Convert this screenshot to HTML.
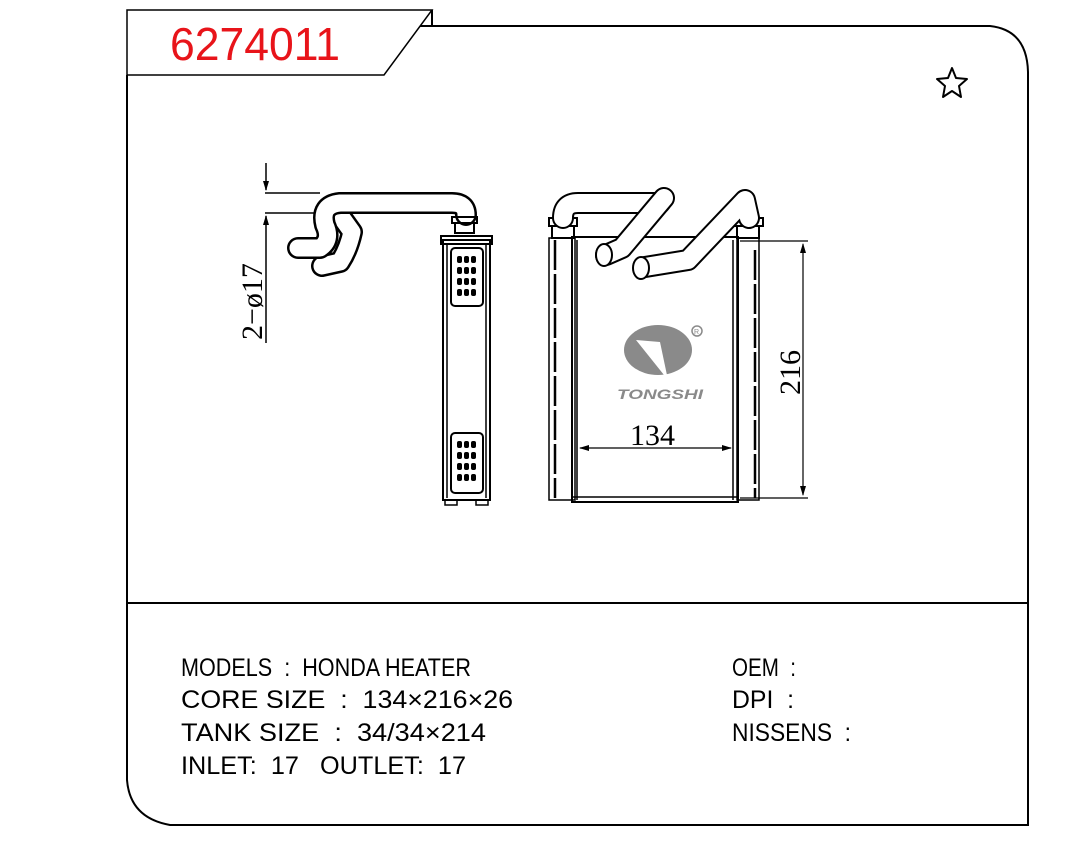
<!DOCTYPE html>
<html><head><meta charset="utf-8">
<style>
html,body{margin:0;padding:0;background:#fff;}
svg{display:block;}
.t{font-family:"Liberation Sans",sans-serif;font-size:25px;fill:#000;white-space:pre;}
.s{font-family:"Liberation Serif",serif;font-size:30px;fill:#000;}
</style></head><body>
<svg width="1071" height="844" viewBox="0 0 1071 844" xmlns="http://www.w3.org/2000/svg" xml:space="preserve">
<defs>
<marker id="ar" markerWidth="10" markerHeight="6" refX="9" refY="3" orient="auto" markerUnits="userSpaceOnUse"><path d="M0,0 L10,3 L0,6 Z" fill="#000"/></marker>
</defs>
<g fill="none" stroke="#000" stroke-width="2">
<path d="M127,10 L432,10 L384,75 L127,75 Z" stroke-width="1.5"/>
<path d="M432,10 L432,26"/>
<path d="M420,26 L990,26 Q1027,30 1028,72 L1028,825 L170,825 Q130,818 127,780 L127,75"/>
<path d="M127,603 L1028,603"/>
</g>
<text x="170" y="60" font-family="Liberation Sans,sans-serif" font-size="46" fill="#e8141a" textLength="170" lengthAdjust="spacingAndGlyphs">6274011</text>
<polygon points="952,68 956,78 967,79 959,86 961,97 952,91 943,97 945,86 937,79 948,78" fill="none" stroke="#000" stroke-width="2" stroke-linejoin="round"/>

<g fill="none" stroke="#000" stroke-width="1.5">
<line x1="265" y1="193" x2="320" y2="193"/>
<line x1="265" y1="213" x2="330" y2="213"/>
<line x1="266" y1="163" x2="266" y2="190" marker-end="url(#ar)"/>
<line x1="266" y1="343" x2="266" y2="216" marker-end="url(#ar)"/>
</g>
<g fill="none" stroke-linecap="round" stroke-linejoin="round">
<path d="M342,218 L352,232 Q348,250 340,262 L322,266" stroke="#000" stroke-width="22"/>
<path d="M342,218 L352,232 Q348,250 340,262 L322,266" stroke="#fff" stroke-width="17"/>
<path d="M466,215 Q466,203 452,203 L340,203 Q320,205 325,225 Q332,240 320,248 L298,248" stroke="#000" stroke-width="22"/>
<path d="M466,215 Q466,203 452,203 L340,203 Q320,205 325,225 Q332,240 320,248 L298,248" stroke="#fff" stroke-width="17"/>
</g>
<g fill="none" stroke="#000" stroke-width="1.5">
<rect x="452" y="217" width="25" height="6" stroke-width="2"/>
<rect x="455" y="223" width="19" height="10" stroke-width="2"/>
<rect x="441" y="236" width="51" height="8" stroke-width="2"/>
<rect x="443" y="240" width="47" height="260" stroke-width="2"/>
<line x1="447" y1="244" x2="447" y2="498"/>
<line x1="486" y1="244" x2="486" y2="498"/>
<rect x="451" y="248" width="32" height="58" rx="4" stroke-width="2"/>
<rect x="451" y="433" width="32" height="60" rx="4" stroke-width="2"/>
<rect x="445" y="500" width="12" height="5"/>
<rect x="476" y="500" width="12" height="5"/>
</g>
<g fill="#000">
<rect x="457" y="256" width="5" height="7" rx="2"/><rect x="464" y="256" width="5" height="7" rx="2"/><rect x="471" y="256" width="5" height="7" rx="2"/>
<rect x="457" y="267" width="5" height="7" rx="2"/><rect x="464" y="267" width="5" height="7" rx="2"/><rect x="471" y="267" width="5" height="7" rx="2"/>
<rect x="457" y="278" width="5" height="7" rx="2"/><rect x="464" y="278" width="5" height="7" rx="2"/><rect x="471" y="278" width="5" height="7" rx="2"/>
<rect x="457" y="289" width="5" height="7" rx="2"/><rect x="464" y="289" width="5" height="7" rx="2"/><rect x="471" y="289" width="5" height="7" rx="2"/>
<rect x="457" y="441" width="5" height="7" rx="2"/><rect x="464" y="441" width="5" height="7" rx="2"/><rect x="471" y="441" width="5" height="7" rx="2"/>
<rect x="457" y="452" width="5" height="7" rx="2"/><rect x="464" y="452" width="5" height="7" rx="2"/><rect x="471" y="452" width="5" height="7" rx="2"/>
<rect x="457" y="463" width="5" height="7" rx="2"/><rect x="464" y="463" width="5" height="7" rx="2"/><rect x="471" y="463" width="5" height="7" rx="2"/>
<rect x="457" y="474" width="5" height="7" rx="2"/><rect x="464" y="474" width="5" height="7" rx="2"/><rect x="471" y="474" width="5" height="7" rx="2"/>
</g>
<text class="s" transform="translate(262,340) rotate(-90)">2−ø17</text>

<g fill="none" stroke="#000" stroke-width="1.5">
<rect x="549" y="238" width="26" height="262"/>
<line x1="555" y1="240" x2="555" y2="498" stroke-width="2.5" stroke-dasharray="30,4"/>
<rect x="737" y="238" width="22" height="262"/>
<line x1="755" y1="250" x2="755" y2="498" stroke-width="2.5" stroke-dasharray="30,4"/>
<rect x="572" y="237" width="166" height="265" stroke-width="2"/>
<line x1="577" y1="240" x2="577" y2="500"/>
<line x1="733" y1="240" x2="733" y2="500"/>
<line x1="572" y1="497" x2="738" y2="497"/>
<rect x="549" y="218" width="28" height="8" stroke-width="2"/>
<rect x="552" y="226" width="22" height="12" stroke-width="2"/>
<rect x="735" y="218" width="28" height="8" stroke-width="2"/>
<rect x="737" y="226" width="22" height="12" stroke-width="2"/>
</g>
<g fill="none" stroke-linecap="round" stroke-linejoin="round">
<path d="M563,218 Q563,203 578,203 L660,203" stroke="#000" stroke-width="22"/>
<path d="M563,218 Q563,203 578,203 L660,203" stroke="#fff" stroke-width="18"/>
<path d="M664,198 L622,248 L606,255" stroke="#000" stroke-width="22"/>
<path d="M664,198 L622,248 L606,255" stroke="#fff" stroke-width="18"/>
<path d="M749,218 L745,200 L688,260 L645,267" stroke="#000" stroke-width="22"/>
<path d="M749,218 L745,200 L688,260 L645,267" stroke="#fff" stroke-width="18"/>
</g>
<g fill="#fff" stroke="#000" stroke-width="2">
<ellipse cx="604" cy="255" rx="8" ry="11"/>
<ellipse cx="641" cy="268" rx="8" ry="11"/>
</g>
<g fill="none" stroke="#000" stroke-width="1.2">
<line x1="740" y1="241" x2="808" y2="241"/>
<line x1="740" y1="498" x2="808" y2="498"/>
<line x1="803" y1="300" x2="803" y2="244" marker-end="url(#ar)"/>
<line x1="803" y1="440" x2="803" y2="495" marker-end="url(#ar)"/>
<line x1="803" y1="300" x2="803" y2="440"/>
<line x1="650" y1="448" x2="580" y2="448" marker-end="url(#ar)"/>
<line x1="650" y1="448" x2="731" y2="448" marker-end="url(#ar)"/>
</g>
<text class="s" x="630" y="445">134</text>
<text class="s" transform="translate(800,395) rotate(-90)">216</text>
<g fill="#8a8a8a">
<ellipse cx="658" cy="350" rx="34" ry="25"/>
<path d="M636,340 L660,342 L668,380 Z" fill="#fff"/>
<text x="617" y="399" font-family="Liberation Sans,sans-serif" font-weight="bold" font-style="italic" font-size="14" textLength="86" lengthAdjust="spacingAndGlyphs">TONGSHI</text>
<circle cx="697" cy="331" r="5" fill="none" stroke="#8a8a8a" stroke-width="1.5"/>
<text x="694" y="334" font-family="Liberation Sans,sans-serif" font-size="7">R</text>
</g>

<text class="t" x="181" y="676" textLength="290" lengthAdjust="spacingAndGlyphs">MODELS  :  HONDA HEATER</text>
<text class="t" x="181" y="708" textLength="332" lengthAdjust="spacingAndGlyphs">CORE SIZE  :  134×216×26</text>
<text class="t" x="181" y="741" textLength="305" lengthAdjust="spacingAndGlyphs">TANK SIZE  :  34/34×214</text>
<text class="t" x="181" y="774" textLength="285" lengthAdjust="spacingAndGlyphs">INLET:  17   OUTLET:  17</text>
<text class="t" x="732" y="676" textLength="64" lengthAdjust="spacingAndGlyphs">OEM  :</text>
<text class="t" x="732" y="708" textLength="62" lengthAdjust="spacingAndGlyphs">DPI  :</text>
<text class="t" x="732" y="741" textLength="119" lengthAdjust="spacingAndGlyphs">NISSENS  :</text>
</svg>
</body></html>
